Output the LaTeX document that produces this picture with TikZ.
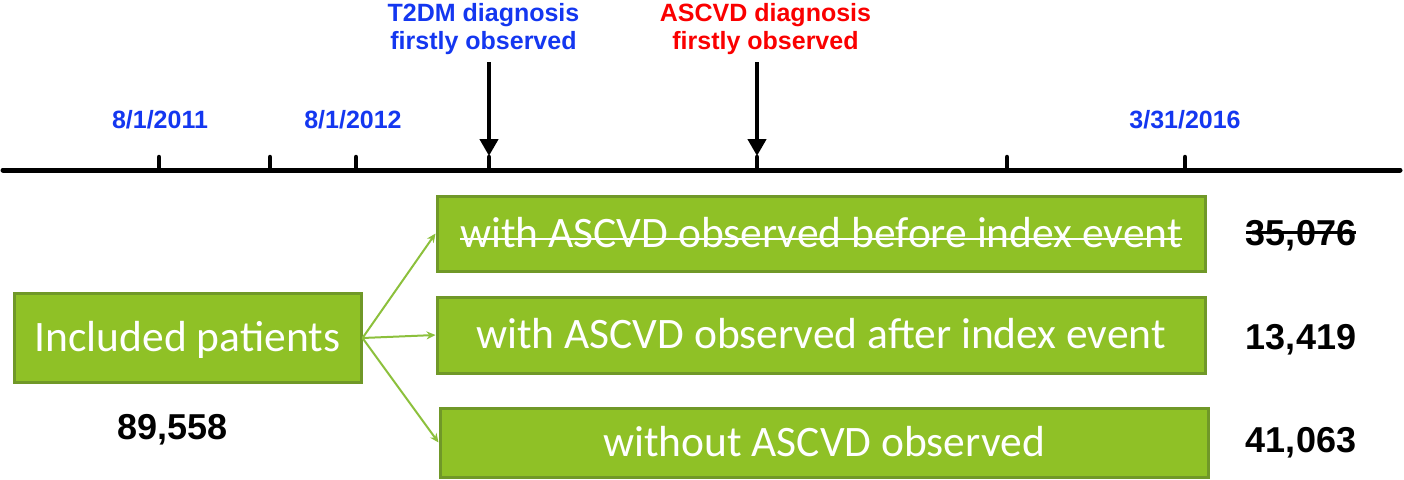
\documentclass[tikz,border=0pt]{standalone}
\usepackage{fontspec}
\setmainfont{Liberation Sans}
\newfontfamily\carlito{Carlito}
\usetikzlibrary{arrows.meta}
\definecolor{gfill}{RGB}{143,193,38}
\definecolor{gborder}{RGB}{112,152,40}
\definecolor{garrow}{RGB}{140,192,60}
\definecolor{lblue}{RGB}{20,55,240}
\definecolor{lred}{RGB}{250,0,0}
\tikzset{
  gbox/.style={draw=gborder, fill=gfill, line width=3pt, inner sep=0pt},
  btext/.style={text=white, font=\carlito\fontsize{43.5}{50}\selectfont, inner sep=0pt, text height=27pt, text depth=0pt},
  numtext/.style={font=\bfseries\fontsize{36}{40}\selectfont, inner sep=0pt, text height=25.5pt, text depth=0pt},
  datetext/.style={text=lblue, font=\bfseries\fontsize{25}{29}\selectfont, inner sep=0pt, text height=18pt, text depth=0pt},
  evtext/.style={font=\bfseries\fontsize{25}{28}\selectfont, inner sep=0pt, align=center, anchor=south},
  timeline/.style={line width=5pt, line cap=round},
  tickline/.style={line width=4.5pt, line cap=round},
  evarrow/.style={line width=4.5pt, -{Triangle[length=17pt,width=18pt]}},
  flowarrow/.style={draw=garrow, line width=2pt, -{Stealth[length=9pt,width=8pt]}}
}
\begin{document}
\begin{tikzpicture}[x=1pt,y=-1pt]
\useasboundingbox (0,0) rectangle (1404,479);
% timeline
\coordinate (L) at (3,170);
\coordinate (R) at (1400,170);
\draw[timeline] (L) -- (R);
\foreach \n/\x in {a/159,b/270,c/356,d/489,e/757,f/1007,g/1185}{
  \coordinate (t\n) at (\x,170);
  \draw[tickline] (t\n) -- ++(0,-13);
}
% date labels
\node[datetext] (d1) at (160,119) {8/1/2011};
\node[datetext] (d2) at (353,119) {8/1/2012};
\node[datetext] (d3) at (1185,119) {3/31/2016};
% event labels
\node[evtext, text=lblue] (ev1) at (483.5,55) {T2DM diagnosis\\firstly observed};
\node[evtext, text=lred] (ev2) at (765.5,55) {ASCVD diagnosis\\firstly observed};
\coordinate (a1s) at (489,62);
\coordinate (a1e) at (489,156);
\coordinate (a2s) at (757,62);
\coordinate (a2e) at (757,156);
\draw[evarrow] (a1s) -- (a1e);
\draw[evarrow] (a2s) -- (a2e);
% boxes
\node[gbox, minimum width=347pt, minimum height=89pt] (inc) at (187.5,338) {};
\node[btext] (inct) at (inc.center) {Included patients};
\node[gbox, minimum width=768pt, minimum height=75pt] (b1) at (821,233.5) {};
\node[btext] (b1t) at (b1.center) {with ASCVD observed before index event};
\draw[white, line width=2pt] ([yshift=-5pt]b1t.west) -- ([yshift=-5pt]b1t.east);
\node[gbox, minimum width=768pt, minimum height=76pt] (b2) at (821,335) {};
\node[btext] (b2t) at (b2.center) {with ASCVD observed after index event};
\node[gbox, minimum width=768pt, minimum height=69pt] (b3) at (824,442.5) {};
\node[btext] (b3t) at (b3.center) {without ASCVD observed};
% connectors
\draw[flowarrow] (inc.east) -- (b1.west);
\draw[flowarrow] (inc.east) -- (b2.west);
\draw[flowarrow] (inc.east) -- (b3.west);
% numbers
\node[numtext] (n0) at (172.5,427) {89,558};
\node[numtext] (n1) at (1301,232.5) {35,076};
\draw[line width=2.5pt] (n1.west) -- (n1.east);
\node[numtext] (n2) at (1301,337) {13,419};
\node[numtext] (n3) at (1301,440) {41,063};
\end{tikzpicture}
\end{document}
